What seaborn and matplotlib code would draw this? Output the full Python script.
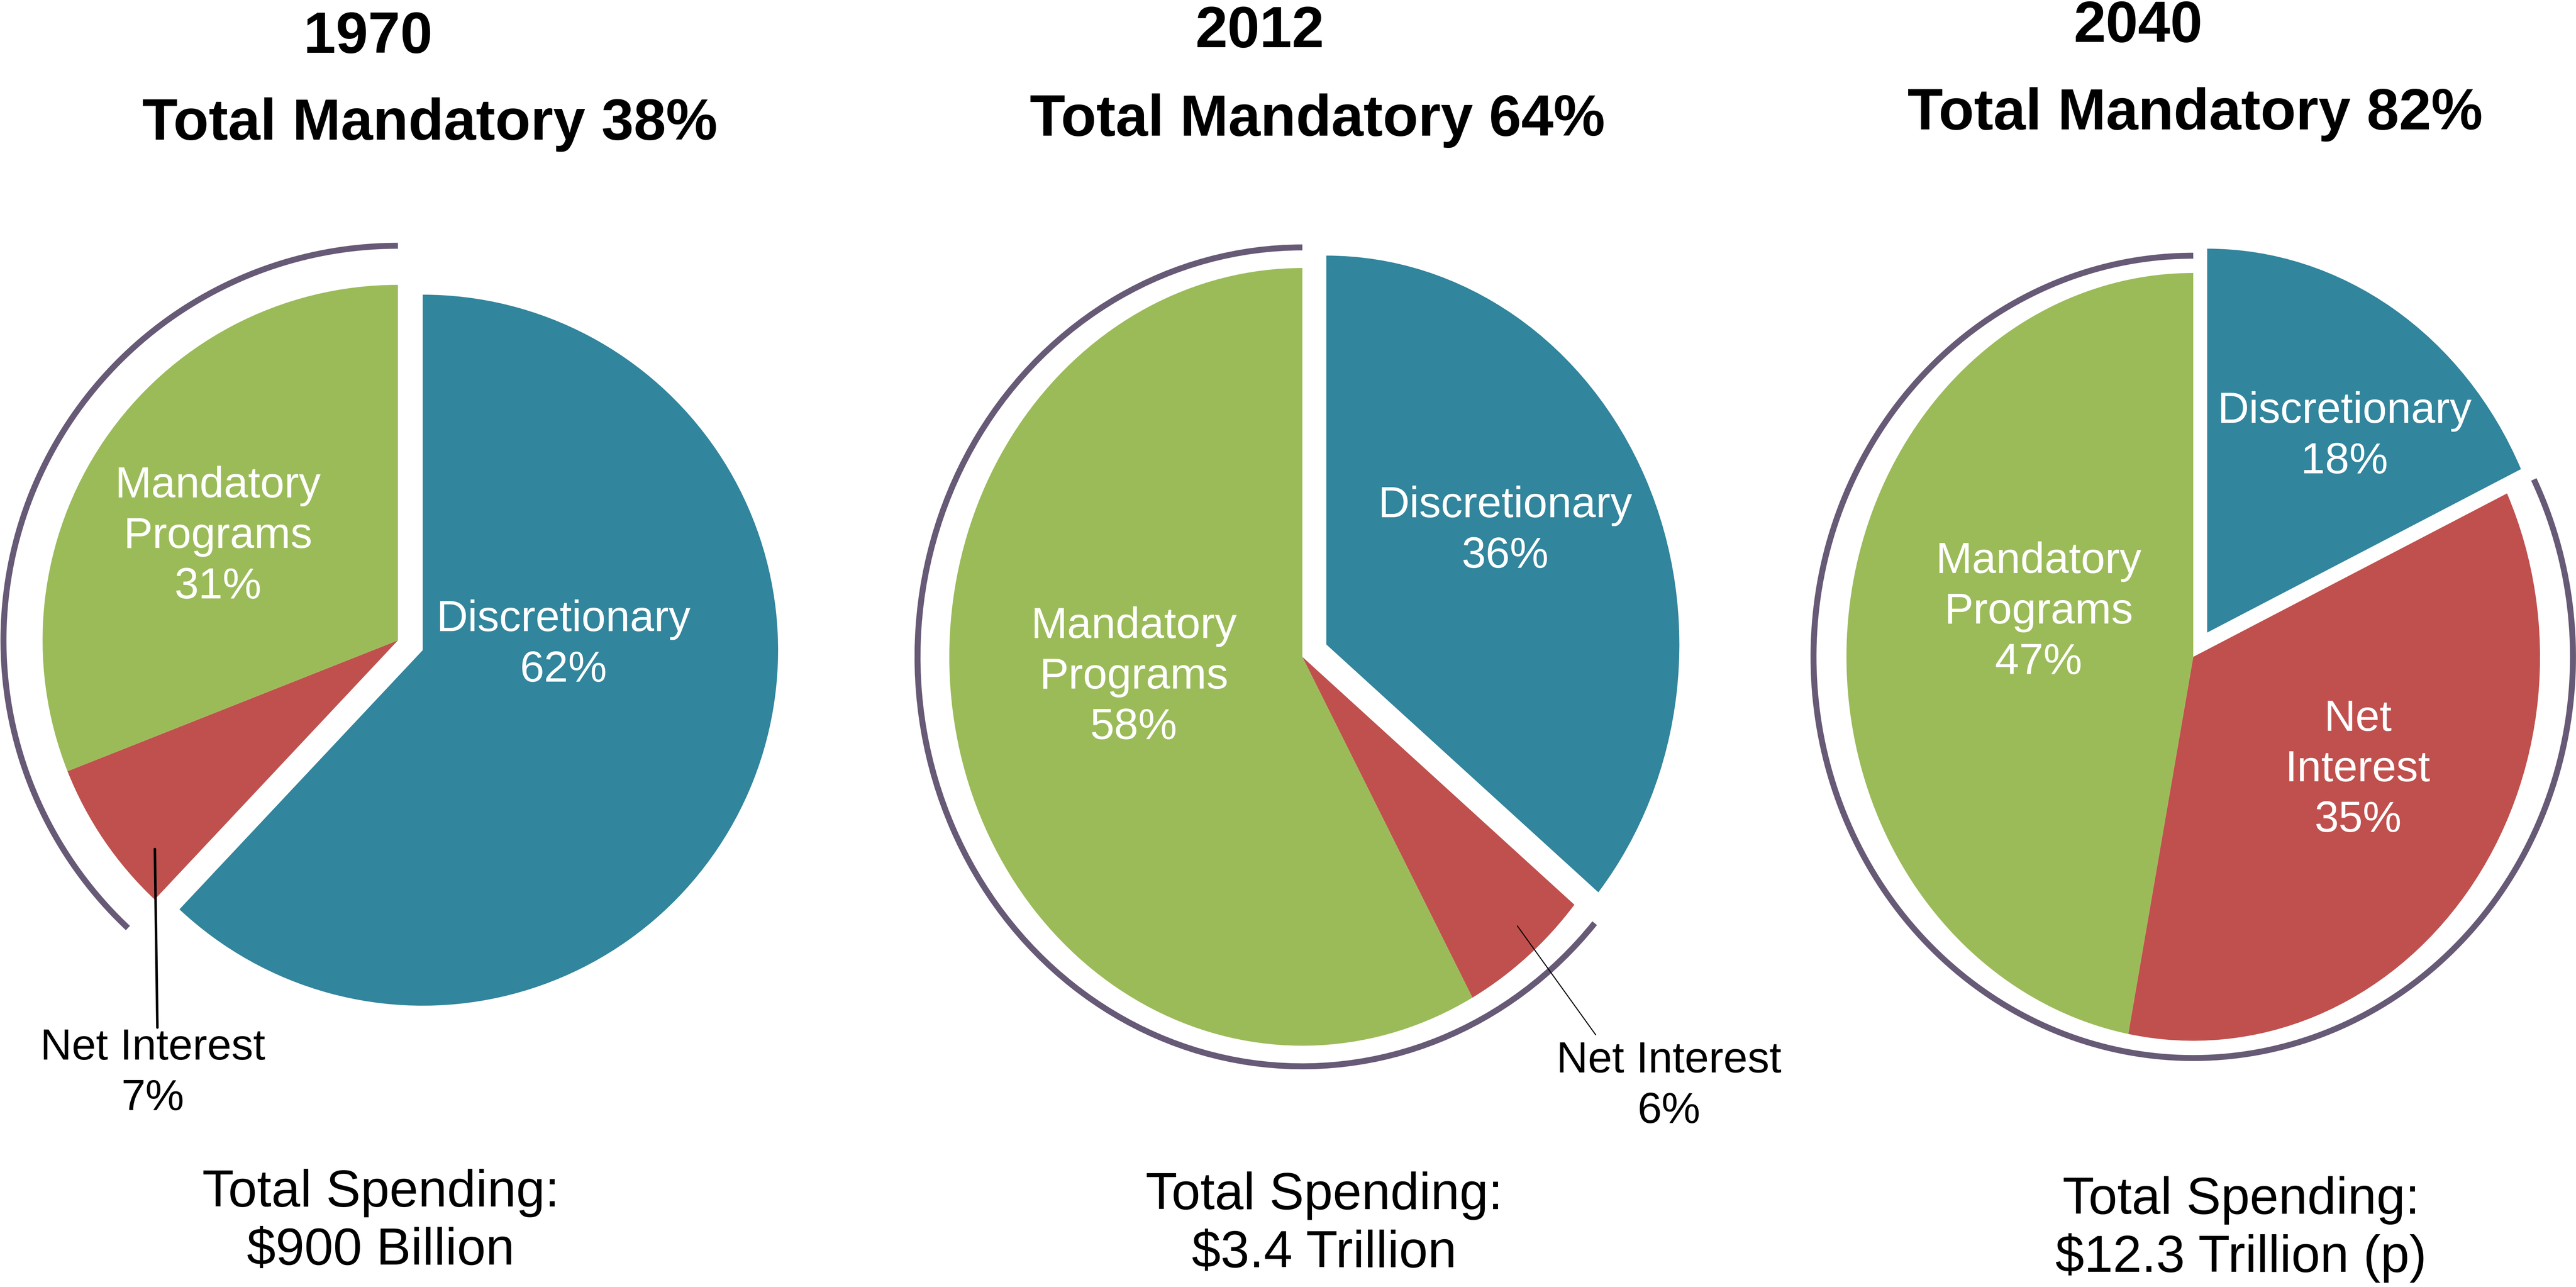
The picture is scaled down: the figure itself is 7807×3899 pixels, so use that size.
'''
    Federal spending composition: 1970, 2012 and 2040 (projected)
'''

# %% Settings
import matplotlib
matplotlib.use('Agg')
import matplotlib.pyplot as plt
from matplotlib.patches import Arc
import seaborn as sns

sns.set_theme(style='white')
plt.rcParams['font.family'] = ['Liberation Sans', 'DejaVu Sans']
plt.rcParams['text.color'] = 'black'

# %% Data
years              = ['1970', '2012', '2040']
discretionary      = [62, 36, 18]
net_interest       = [7, 6, 35]
mandatory_programs = [31, 58, 47]
total_mandatory    = [38, 64, 82]
total_spending     = ['$900 Billion', '$3.4 Trillion', '$12.3 Trillion (p)']

palette = sns.color_palette(['#31859C', '#C0504D', '#9BBB59'])
arc_color = '#675A76'

# %% Layout (pixels of the output image)
W, H, DPI = 7807, 3899, 500
L = 1.3                                     # half extent of each pie axes in data units
pie_center = [(1206, 1940), (3947, 1990), (6647, 1990)]
pie_radius = [(1077, 1077), (1070, 1178), (1051, 1163)]
arc_scale  = [(1.11, 1.11), (1.09, 1.053), (1.095, 1.045)]

# first-line baselines / centres of the texts
year_pos   = [(1115, 160), (3818, 143), (6480, 127)]
mand_pos   = [(1303, 423), (3993, 411), (6653, 392)]
spend_pos  = [(1154, 3655), (4013, 3663), (6792, 3677)]
disc_pos   = [(1707, 1912), (4561, 1567), (7105, 1281)]
prog_pos   = [(660, 1507), (3436, 1933), (6178, 1736)]
net_pos    = [(463, 3210), (5058, 3249), (7146, 2214)]
net_inside = [False, False, True]
# leader lines for the outside labels: point on the wedge (data units) -> label (pixels)
leader = {0: ((-0.684, -0.587), (477, 3113), 1.1),
          1: ((0.609, -0.692), (4836, 3135), 0.45)}

fig = plt.figure(figsize=(W / DPI, H / DPI), dpi=DPI)
fig.patch.set_facecolor('white')

for i, year in enumerate(years):
    cx, cy = pie_center[i]
    rx, ry = pie_radius[i]
    ax = fig.add_axes([(cx - L * rx) / W, 1 - (cy + L * ry) / H, 2 * L * rx / W, 2 * L * ry / H])
    ax.pie([discretionary[i], net_interest[i], mandatory_programs[i]],
           colors=palette, startangle=90, counterclock=False,
           explode=[0.075, 0, 0], wedgeprops=dict(linewidth=0))
    ax.set_aspect('auto')
    ax.set_xlim(-L, L)
    ax.set_ylim(-L, L)
    ax.axis('off')

    # bracket arc around the mandatory part (programs + net interest)
    sx, sy = arc_scale[i]
    ax.add_patch(Arc((0, 0), 2 * sx, 2 * sy, theta1=90, theta2=90 + 3.6 * total_mandatory[i],
                     lw=2.6, color=arc_color))

    if i in leader:
        xy, (px, py), lw = leader[i]
        ax.annotate('', xy=xy, xytext=(px, H - py), textcoords='figure pixels',
                    arrowprops=dict(arrowstyle='-', lw=lw, color='black', shrinkA=0, shrinkB=0))

# overlay in pixel coordinates for all the texts
ov = fig.add_axes([0, 0, 1, 1])
ov.set_xlim(0, W)
ov.set_ylim(H, 0)
ov.axis('off')
ov.patch.set_alpha(0)


def put_lines(x, y0, lines, size, step, **kw):
    for k, s in enumerate(lines):
        ov.text(x, y0 + k * step, s, ha='center', va='baseline', fontsize=size, **kw)


for i, year in enumerate(years):
    ov.text(*year_pos[i], year, ha='center', va='baseline', fontsize=25.3, fontweight='bold', color='black')
    ov.text(*mand_pos[i], f'Total Mandatory {total_mandatory[i]}%', ha='center', va='baseline',
            fontsize=25.3, fontweight='bold', color='black')
    put_lines(*spend_pos[i], ['Total Spending:', total_spending[i]], 22.6, 176, color='black')

    put_lines(*disc_pos[i], ['Discretionary', f'{discretionary[i]}%'], 19.0, 153, color='white')
    put_lines(*prog_pos[i], ['Mandatory', 'Programs', f'{mandatory_programs[i]}%'], 19.0, 153, color='white')
    if net_inside[i]:
        put_lines(*net_pos[i], ['Net', 'Interest', f'{net_interest[i]}%'], 19.0, 153, color='white')
    else:
        put_lines(*net_pos[i], ['Net Interest', f'{net_interest[i]}%'], 19.0, 153, color='black')

plt.savefig('out.png', dpi=DPI, facecolor='white')
